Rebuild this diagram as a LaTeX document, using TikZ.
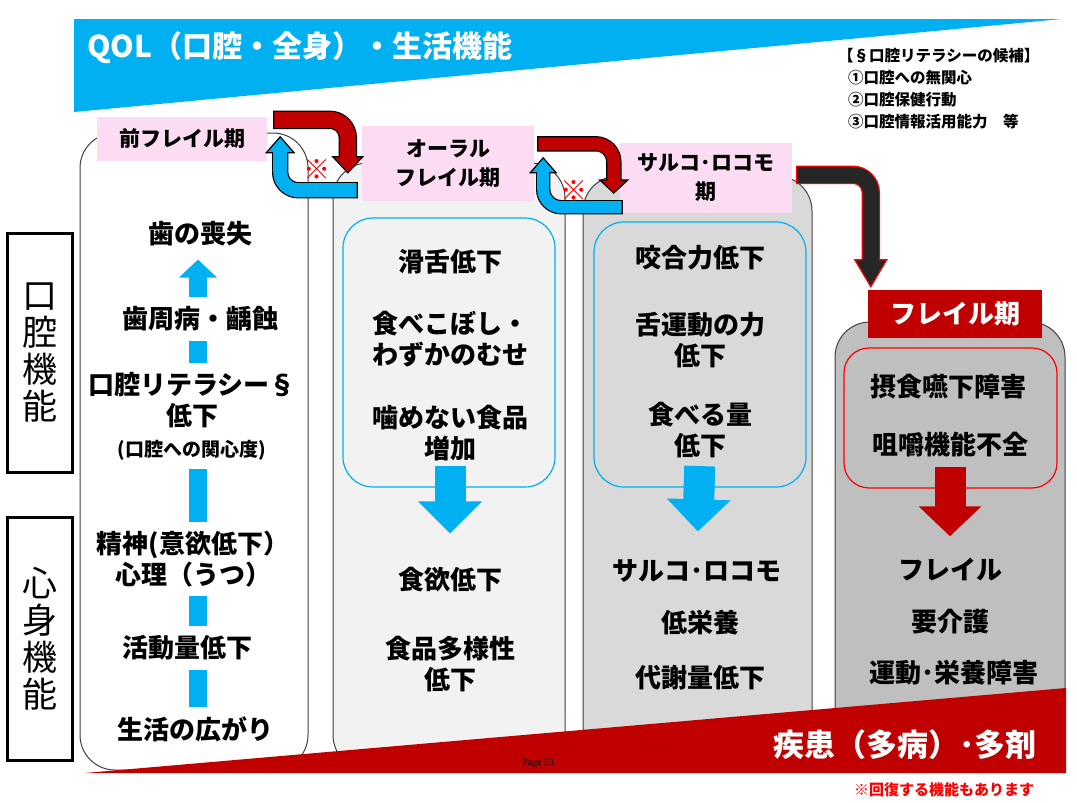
\documentclass[tikz,border=0pt]{standalone}
\usepackage{fontspec}
\setmainfont{Noto Sans CJK JP}
\newfontfamily\pagefont{Liberation Serif}
\usetikzlibrary{positioning,arrows.meta,calc}
\definecolor{qolblue}{RGB}{0,176,240}
\definecolor{illnessred}{RGB}{192,0,0}
\definecolor{markred}{RGB}{255,0,0}
\definecolor{stagepink}{RGB}{252,220,242}
\definecolor{colframe}{RGB}{64,64,64}
\definecolor{darkarrow}{RGB}{38,38,38}
\colorlet{stagetwo}{black!5}
\colorlet{stagethree}{black!15}
\colorlet{stagefour}{black!25}
% bent block arrow: start, tip, shaft, half head, head offset, fill, edge
\newcommand\bentarrow[7]{%
  \coordinate (ba-base) at ($(#2)+(0,#5)$);
  \draw[line width=#3pt+2.4pt,#7,rounded corners=18pt] (#1) -| (ba-base);
  \filldraw[fill=#6,draw=#7,line width=1.2pt] ($(ba-base)+(-#4,0)$) -- ($(ba-base)+(#4,0)$) -- (#2) -- cycle;
  \draw[line width=#3pt,#6,rounded corners=18pt,shorten <=1.2pt,shorten >=-2pt] (#1) -| (ba-base);
}

\begin{document}
\begin{tikzpicture}[x=1pt,y=-1pt,
    txt/.style={font=\bfseries\fontsize{26}{31}\selectfont,align=center,inner sep=0pt},
    stagebox/.style={fill=stagepink,font=\bfseries\fontsize{21}{29}\selectfont,align=center,inner sep=0pt},
    sidebox/.style={draw=black,line width=3pt,font=\fontsize{35}{37}\selectfont,align=center,inner sep=0pt},
    column/.style={draw=colframe,line width=1pt,rounded corners=35pt},
    upbar/.style={qolblue,line width=18pt,shorten <=9pt,shorten >=9pt},
    downfat/.style={line width=31pt,-{Triangle[width=62pt,length=32pt]}},
    marknode/.style={text=markred,font=\bfseries\fontsize{27}{27}\selectfont,inner sep=0pt}]
  \useasboundingbox (0,0) rectangle (1077,803);

  % bands
  \fill[qolblue] (74,19) -- (1062,19) -- (74,112) -- cycle;
  \node[anchor=west,text=white,font=\bfseries\fontsize{30}{36}\selectfont,inner sep=0pt] (qol) at (87,48) {QOL（口腔・全身）・生活機能};
  \node[anchor=north west,align=left,font=\bfseries\fontsize{15.5}{22}\selectfont,inner sep=0pt] (cands) at (838,48)
    {【§口腔リテラシーの候補】\\\hspace*{10pt}①口腔への無関心\\\hspace*{10pt}②口腔保健行動\\\hspace*{10pt}③口腔情報活用能力　等};

  % side labels
  \node[sidebox,minimum width=65pt,minimum height=239pt] (oralfunc) at (39.5,352.5) {口\\腔\\機\\能};
  \node[sidebox,minimum width=65pt,minimum height=243pt] (bodyfunc) at (39.5,638.5) {心\\身\\機\\能};

  % columns
  \draw[column,fill=white] (80,133) rectangle (308,770);
  \draw[column,fill=stagetwo] (333,163) rectangle (565,770);
  \draw[column,fill=stagethree] (583,176) rectangle (812,770);
  \draw[column,fill=stagefour] (835,322) rectangle (1065,770);
  \draw[qolblue,line width=1.2pt,rounded corners=30pt] (343,218) rectangle (555,487);
  \draw[qolblue,line width=1.2pt,rounded corners=30pt] (594,222) rectangle (806,487);
  \draw[markred,line width=1.2pt,rounded corners=25pt] (844,348) rectangle (1057,488);

  % column 1
  \coordinate (spine) at (198,0);
  \node[txt] (loss) at (200,234) {歯の喪失};
  \node[txt] (perio) at (200,319) {歯周病・齲蝕};
  \node[txt] (literacy) at (192,416) {口腔リテラシー§\\低下\\{\fontsize{19}{24}\selectfont (口腔への関心度)}};
  \node[txt] (mind) at (193,559) {精神(意欲低下）\\心理（うつ）};
  \node[txt] (activity) at (187,648) {活動量低下};
  \node[txt] (life) at (195,729) {生活の広がり};
  \draw[upbar] (life.north -| spine) -- (activity.south -| spine);
  \draw[upbar] (activity.north -| spine) -- (mind.south -| spine);
  \draw[upbar] (mind.north -| spine) -- (literacy.south -| spine);
  \draw[upbar] (literacy.north -| spine) -- (perio.south -| spine);
  \draw[upbar,-{Triangle[width=37pt,length=18pt]},shorten >=13pt] (perio.north -| spine) -- (loss.south -| spine);

  % column 2
  \node[txt] (slur) at (450,262) {滑舌低下};
  \node[txt] (spill) at (450,339) {食べこぼし・\\わずかのむせ};
  \node[txt] (hardfood) at (450,433) {噛めない食品\\増加};
  \node[txt] (appetite) at (450,580) {食欲低下};
  \node[txt] (variety) at (450,664) {食品多様性\\低下};
  \draw[downfat,qolblue,shorten <=5pt,shorten >=34pt] (hardfood.south) -- (appetite.north);

  % column 3
  \node[txt] (bite) at (700,258) {咬合力低下};
  \node[txt] (tongue) at (700,340) {舌運動の力\\低下};
  \node[txt] (amount) at (700,430) {食べる量\\低下};
  \node[txt] (sarcloco) at (697,571) {サルコ･ロコモ};
  \node[txt] (undernut) at (700,623) {低栄養};
  \node[txt] (metab) at (700,678) {代謝量低下};
  \draw[downfat,qolblue,shorten <=8pt,shorten >=28pt] (amount.south) -- (sarcloco.north);

  % column 4
  \node[txt] (dysphagia) at (948,387) {摂食嚥下障害};
  \node[txt] (chewing) at (950,445) {咀嚼機能不全};
  \node[txt] (frailty) at (950,570) {フレイル};
  \node[txt] (care) at (950,622) {要介護};
  \node[txt] (motor) at (954,673) {運動･栄養障害};
  \draw[downfat,illnessred,-{Triangle[width=61pt,length=30pt]},shorten <=9pt,shorten >=22pt] (chewing.south) -- (frailty.north);

  % stage labels
  \node[stagebox,minimum width=170pt,minimum height=44pt] (pre) at (182,139) {前フレイル期};
  \node[stagebox,minimum width=172pt,minimum height=75pt] (oral) at (448,163.5) {オーラル\\フレイル期};
  \node[stagebox,minimum width=172pt,minimum height=70pt] (sarco) at (706,178) {サルコ･ロコモ\\期};
  \node[fill=illnessred,text=white,font=\bfseries\fontsize{26}{30}\selectfont,minimum width=174pt,minimum height=48pt,inner sep=0pt] (frail) at (955,314) {フレイル期};

  % bent arrows between stages
  \coordinate (red1s) at ($(pre.north east)+(6,3)$);
  \coordinate (red1t) at ($(oral.north west)+(-14,47)$);
  \coordinate (blue1s) at ($(oral.south west)+(-4,-11)$);
  \coordinate (blue1t) at ($(pre.north east)+(13,20)$);
  \coordinate (red2s) at ($(oral.north east)+(3,18)$);
  \coordinate (red2t) at ($(sarco.west)+(-6,15)$);
  \coordinate (blue2s) at ($(sarco.south west)+(3,-6)$);
  \coordinate (blue2t) at ($(oral.north east)+(9,32)$);
  \coordinate (dark3s) at ($(sarco.north east)+(4,32)$);
  \coordinate (dark3t) at ($(frail.north west)+(3,-3)$);
  \bentarrow{red1s}{red1t}{16}{15}{-16}{illnessred}{black}
  \bentarrow{blue1s}{blue1t}{14}{14}{16}{qolblue}{black}
  \bentarrow{red2s}{red2t}{13}{14}{-13}{illnessred}{black}
  \bentarrow{blue2s}{blue2t}{12}{13}{15}{qolblue}{black}
  \bentarrow{dark3s}{dark3t}{16}{16}{-27}{darkarrow}{markred}
  \node[marknode] (mark1) at (317,170) {※};
  \node[marknode] (mark2) at (574,191) {※};

  % bottom band
  \fill[illnessred] (85,773) -- (1066,688) -- (1066,773) -- cycle;
  \node[text=white,font=\bfseries\fontsize{31}{36}\selectfont,inner sep=0pt] (illness) at (905,745) {疾患（多病）･多剤};
  \node[font=\pagefont\fontsize{10}{12}\selectfont,inner sep=0pt] (pagenum) at (538,763) {Page 53};
  \node[text=markred,font=\bfseries\fontsize{15}{18}\selectfont,inner sep=0pt] (recover) at (944,790) {※回復する機能もあります};
\end{tikzpicture}
\end{document}
